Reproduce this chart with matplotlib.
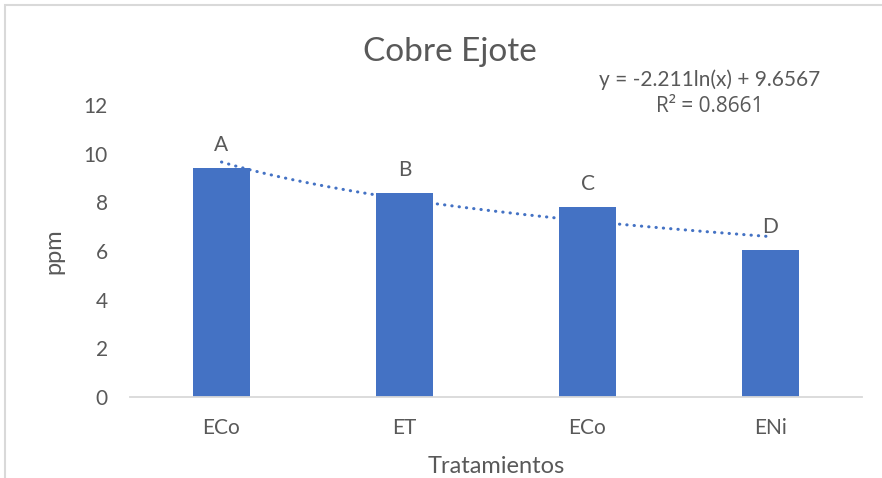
import numpy as np
import matplotlib
matplotlib.use("Agg")
import matplotlib.pyplot as plt
from matplotlib.patches import Rectangle

# data
categories = ["ECo", "ET", "ECo", "ENi"]
values = [9.41, 8.38, 7.81, 6.04]
letters = ["A", "B", "C", "D"]
trend_slope = -2.211
trend_intercept = 9.6567
r_squared = 0.8661

bar_color = "#4472C4"
text_color = "#595959"
line_gray = "#D9D9D9"

plt.rcParams["font.family"] = ["Lato", "DejaVu Sans"]

fig = plt.figure(figsize=(8.82, 4.78), dpi=100)
ax = fig.add_axes([130 / 882, 1 - 397 / 478, 732 / 882, 292 / 478])

x = np.arange(len(categories))
ax.bar(x, values, width=0.31, color=bar_color, zorder=2)

# letters above bars
for xi, v, lab in zip(x, values, letters):
    ax.text(xi, v + 0.55, lab, ha="center", va="bottom", fontsize=15, color=text_color)

# logarithmic trendline (x = 1..n as in Excel)
xt = np.linspace(1, len(categories), 200)
yt = trend_slope * np.log(xt) + trend_intercept
ax.plot(xt - 1, yt, color=bar_color, lw=2.2, linestyle=(0, (0.1, 2.3)),
        dash_capstyle="round", zorder=3)

ax.set_xlim(-0.5, len(categories) - 0.5)
ax.set_ylim(0, 12)
ax.set_yticks(range(0, 13, 2))
ax.set_xticks(x)
ax.set_xticklabels(categories)
ax.tick_params(axis="both", length=0, labelsize=15, labelcolor=text_color)
ax.tick_params(axis="y", pad=16)
ax.tick_params(axis="x", pad=15)
for s in ["top", "right", "left"]:
    ax.spines[s].set_visible(False)
ax.spines["bottom"].set_color(line_gray)
ax.spines["bottom"].set_linewidth(1.3)

ax.set_xlabel("Tratamientos", fontsize=17, color=text_color, labelpad=13)
ax.set_ylabel("ppm", fontsize=17, color=text_color, labelpad=14)

fig.text(450 / 882, 1 - 52 / 478, "Cobre Ejote", ha="center", va="center",
         fontsize=24, color=text_color)
fig.text(710 / 882, 1 - 80 / 478, f"y = {trend_slope}ln(x) + {trend_intercept}",
         ha="center", va="center", fontsize=15, color=text_color)
fig.text(710 / 882, 1 - 107 / 478, f"R² = {r_squared}",
         ha="center", va="center", fontsize=15, color=text_color,
         family=["Open Sans", "DejaVu Sans"])

# chart area border (cropped at right and bottom)
fig.patches.append(Rectangle((5 / 882, -0.1), 1.2, 1 - 5 / 478 + 0.1,
                             transform=fig.transFigure, fill=False,
                             edgecolor=line_gray, lw=1.5))

fig.savefig("out.png", dpi=100)
